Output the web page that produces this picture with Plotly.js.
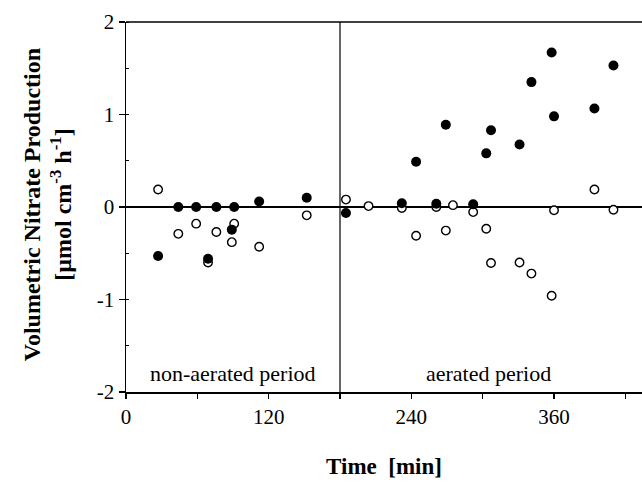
<!DOCTYPE html>
<html>
<head>
<meta charset="utf-8">
<script src="https://cdn.plot.ly/plotly-3.0.1.min.js"></script>
<style>html,body{margin:0;padding:0;background:#fff;}#chart{width:642px;height:496px;}</style>
</head>
<body>
<div id="chart"></div>
<script>
// Filled circles
var filledTime = [27, 44, 59, 76, 69, 89, 91, 112, 152,
                  185, 232, 244, 261, 269, 292, 303, 307, 331, 341, 358, 360, 394, 410];
var filledValue = [-0.53, 0, 0, 0, -0.56, -0.245, 0, 0.06, 0.10,
                   -0.065, 0.04, 0.49, 0.035, 0.89, 0.03, 0.58, 0.83, 0.675, 1.35, 1.67, 0.98, 1.065, 1.53];
// Open circles
var openTime = [27, 44, 59, 76, 69, 89, 91, 112, 152,
                185, 204, 232, 261, 275, 292, 360, 394, 410,
                244, 269, 303, 307, 331, 341, 358];
var openValue = [0.19, -0.29, -0.18, -0.27, -0.60, -0.38, -0.18, -0.43, -0.09,
                 0.08, 0.01, -0.01, 0.0, 0.02, -0.055, -0.035, 0.19, -0.03,
                 -0.31, -0.255, -0.235, -0.605, -0.60, -0.72, -0.96];
var xTickVals = [0, 120, 240, 360];
var xTickText = ['0', '120', '240', '360'];
var yTickVals = [-2, -1, 0, 1, 2];
var yTickText = ['-2', '-1', '0', '1', '2'];
var periodBoundary = 180;
var periodLabels = ['non-aerated period', 'aerated period'];
var periodLabelX = [90, 305];

var serif = 'Liberation Serif, Times New Roman, serif';

var traces = [
  {x: openTime, y: openValue, type: 'scatter', mode: 'markers', name: 'open',
   marker: {symbol: 'circle', size: 8.5, color: '#ffffff', line: {color: '#000000', width: 1.4}},
   cliponaxis: false},
  {x: filledTime, y: filledValue, type: 'scatter', mode: 'markers', name: 'filled',
   marker: {symbol: 'circle', size: 10, color: '#000000', line: {width: 0}},
   cliponaxis: false}
];

var layout = {
  width: 642, height: 496,
  margin: {l: 126, r: 0, t: 22, b: 104},
  paper_bgcolor: '#ffffff', plot_bgcolor: '#ffffff',
  showlegend: false,
  font: {family: serif, color: '#000000', size: 21},
  xaxis: {
    range: [0, 434], showgrid: false, zeroline: false,
    showline: true, linecolor: '#000000', linewidth: 1.5,
    tickmode: 'array', tickvals: xTickVals, ticktext: xTickText,
    ticks: 'outside', ticklen: 5, tickwidth: 1.2, tickcolor: '#000000',
    minor: {dtick: 60, tick0: 0, ticks: 'outside', ticklen: 5, tickwidth: 1.2, tickcolor: '#000000'},
    tickfont: {family: serif, size: 21, color: '#000000'},
    title: {text: '<b>Time  [min]</b>', font: {family: serif, size: 23, color: '#000000'}, standoff: 30}
  },
  yaxis: {
    range: [-2, 2], showgrid: false,
    zeroline: true, zerolinecolor: '#000000', zerolinewidth: 1.5,
    showline: true, linecolor: '#000000', linewidth: 1.5,
    tickmode: 'array', tickvals: yTickVals, ticktext: yTickText,
    ticks: 'outside', ticklen: 6, tickwidth: 1.2, tickcolor: '#000000',
    minor: {dtick: 0.5, tick0: 0, ticks: 'inside', ticklen: 3, tickwidth: 1, tickcolor: '#000000'},
    tickfont: {family: serif, size: 21, color: '#000000'}
  },
  shapes: [
    {type: 'line', xref: 'paper', yref: 'paper', x0: 0, x1: 1, y0: 1, y1: 1,
     line: {color: '#000000', width: 1.5}},
    {type: 'line', xref: 'x', yref: 'paper', x0: periodBoundary, x1: periodBoundary, y0: 0, y1: 1,
     line: {color: '#000000', width: 1.2}}
  ],
  annotations: [
    {text: periodLabels[0], x: periodLabelX[0], y: -1.8, xref: 'x', yref: 'y',
     showarrow: false, xanchor: 'center', yanchor: 'middle', font: {family: serif, size: 22}},
    {text: periodLabels[1], x: periodLabelX[1], y: -1.8, xref: 'x', yref: 'y',
     showarrow: false, xanchor: 'center', yanchor: 'middle', font: {family: serif, size: 22}},
    {text: '<b>Volumetric Nitrate Production</b><br><b>[µmol cm<sup>-3</sup> h<sup>-1</sup>]</b>',
     xref: 'paper', yref: 'paper', x: -0.153, y: 0.505, textangle: -90,
     showarrow: false, xanchor: 'center', yanchor: 'middle',
     font: {family: serif, size: 24, color: '#000000'}}
  ]
};

Plotly.newPlot('chart', traces, layout, {displayModeBar: false, staticPlot: true});
</script>
</body>
</html>
